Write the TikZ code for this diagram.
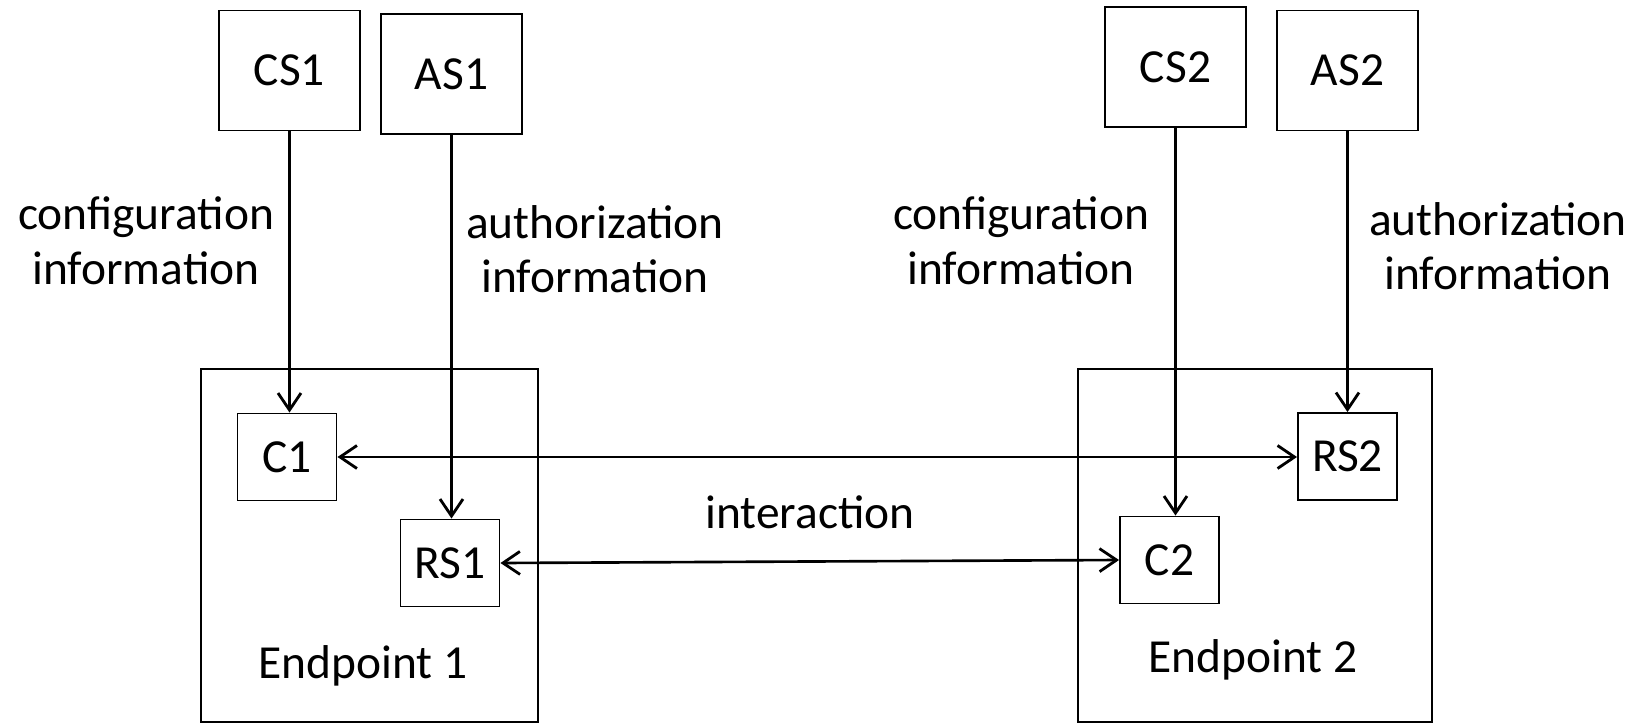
\documentclass[tikz,border=0pt]{standalone}
\usepackage{fontspec}
\setmainfont{Carlito}
\usetikzlibrary{arrows.meta}
\begin{document}
\begin{tikzpicture}[>={Straight Barb[length=0.34cm,width=0.46cm,line width=1.6pt]},line width=1.1pt,
        font=\fontsize{27}{31}\selectfont,
        box/.style={draw, rectangle, inner sep=0pt},
        server/.style={box, minimum width=2.82cm, minimum height=2.4cm},
        comp/.style={box, minimum width=1.98cm, minimum height=1.74cm},
        endpt/.style={box, minimum height=7.06cm},
        flow/.style={line width=1.5pt},
        info/.style={align=center}]
        \useasboundingbox (0,0) rectangle (32.74,-14.46);
        \node (ep1) [endpt, minimum width=6.74cm] at (7.39,-10.91) {};
        \node (ep2) [endpt, minimum width=7.08cm] at (25.10,-10.91) {};
        \node (ep1lbl) at (7.26,-13.32) {Endpoint 1};
        \node (ep2lbl) at (25.06,-13.2) {Endpoint 2};

        \node (cs1) [server] at (5.79,-1.41) {CS1};
        \node (as1) [server] at (9.03,-1.48) {AS1};
        \node (cs2) [server] at (23.51,-1.34) {CS2};
        \node (as2) [server] at (26.95,-1.41) {AS2};

        \node (c1) [comp] at (5.74,-9.14) {C1};
        \node (rs1) [comp] at (9.00,-11.26) {RS1};
        \node (rs2) [comp] at (26.95,-9.13) {RS2};
        \node (c2) [comp] at (23.39,-11.2) {C2};

        \node (cfg1) [info] at (2.92,-4.82) {configuration\\information};
        \node (auth1) [info] at (11.90,-4.98) {authorization\\information};
        \node (cfg2) [info] at (20.42,-4.82) {configuration\\information};
        \node (auth2) [info] at (29.96,-4.92) {authorization\\information};
        \node (inter) at (16.2,-10.24) {interaction};

        \draw[->, flow] (cs1.south) -- (cs1.south |- c1.north);
        \draw[->, flow] (as1.south) -- (as1.south |- rs1.north);
        \draw[->, flow] (cs2.south) -- (cs2.south |- c2.north);
        \draw[->, flow] (as2.south) -- (as2.south |- rs2.north);
        \draw[<->, flow] (c1.east) -- (c1.east -| rs2.west);
        \draw[<->, flow] (rs1.east) -- (c2.west);
    \end{tikzpicture}
\end{document}
